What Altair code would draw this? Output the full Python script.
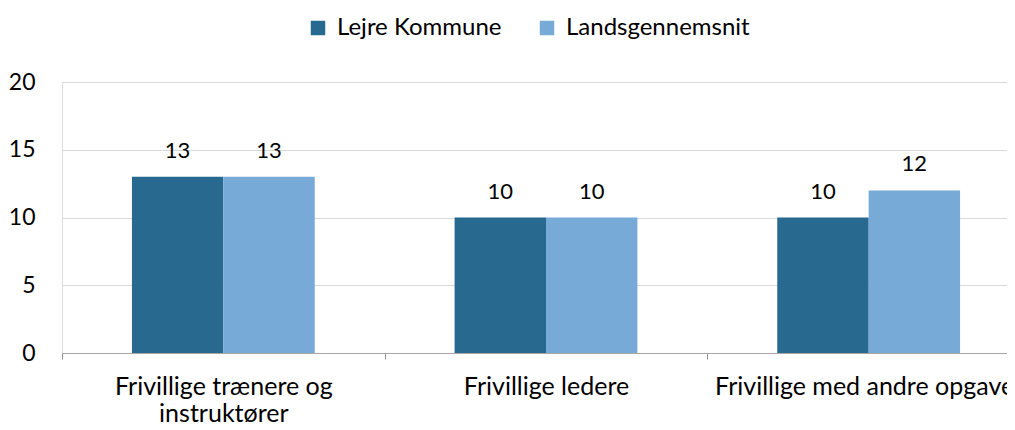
import altair as alt
import pandas as pd

categories = ["Frivillige trænere og instruktører", "Frivillige ledere", "Frivillige med andre opgaver"]
series = ["Lejre Kommune", "Landsgennemsnit"]
lejre = [13, 10, 10]
lands = [13, 10, 12]
colors = ["#27698f", "#77aad7"]
y_ticks = [0, 5, 10, 15, 20]

rows = []
for c, a, b in zip(categories, lejre, lands):
    rows.append({"kategori": c, "serie": series[0], "værdi": a})
    rows.append({"kategori": c, "serie": series[1], "værdi": b})
df = pd.DataFrame(rows)

FONT = "Lato"

label_expr = (
    "datum.label == 'Frivillige trænere og instruktører' ? "
    "['Frivillige trænere og', 'instruktører'] : datum.label"
)

base = alt.Chart(df).encode(
    x=alt.X(
        "kategori:N",
        sort=categories,
        scale=alt.Scale(paddingInner=0, paddingOuter=0, range=[0, 968]),
        axis=alt.Axis(
            title=None,
            labelAngle=0,
            tickBand="extent",
            ticks=True,
            tickSize=6,
            tickColor="#8c8c8c",
            domainColor="#a6a6a6",
            labelExpr=label_expr,
            labelFont=FONT,
            labelFontSize=25,
            labelColor="#000000",
            labelPadding=15,
            labelLineHeight=27,
            labelLimit=0,
            grid=False,
        ),
    ),
    xOffset=alt.XOffset(
        "serie:N",
        sort=series,
        scale=alt.Scale(paddingInner=0, paddingOuter=0.765),
    ),
    y=alt.Y(
        "værdi:Q",
        scale=alt.Scale(domain=[0, 20]),
        axis=alt.Axis(
            title=None,
            values=y_ticks,
            domain=False,
            ticks=False,
            grid=True,
            gridColor="#d9d9d9",
            labelFont=FONT,
            labelFontSize=23,
            labelColor="#000000",
            labelPadding=27,
        ),
    ),
)

bars = base.mark_bar().encode(
    color=alt.Color(
        "serie:N",
        sort=series,
        scale=alt.Scale(domain=series, range=colors),
        legend=alt.Legend(
            title=None,
            orient="none",
            direction="horizontal",
            legendX=244,
            legendY=-66,
            symbolType="square",
            symbolSize=210,
            symbolStrokeWidth=0,
            labelFont=FONT,
            labelFontSize=24,
            labelColor="#000000",
            labelOffset=7,
            labelLimit=0,
            columnPadding=33,
        ),
    )
)

text = base.mark_text(baseline="alphabetic", dy=-19, font=FONT, fontSize=22, color="#000000").encode(
    text=alt.Text("værdi:Q")
)

chart = (
    alt.layer(bars, text)
    .properties(
        width=945,
        height=271,
        autosize=alt.AutoSizeParams(type="none"),
        padding={"left": 54, "top": 74, "right": 0, "bottom": 69},
    )
    .configure_view(stroke="transparent")
    .configure(background="#ffffff")
)

chart.save("out.html", embed_options={"renderer": "svg", "actions": False})
